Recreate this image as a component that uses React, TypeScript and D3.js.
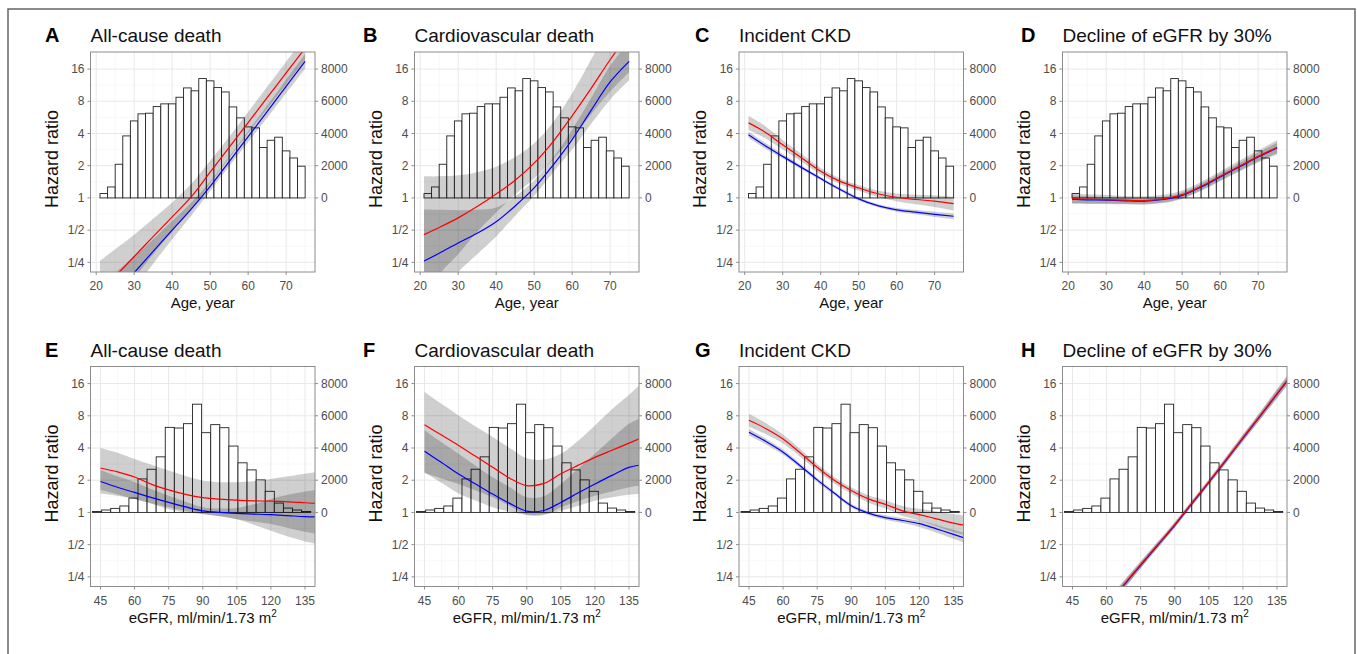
import React from "react";
import * as d3 from "d3";

const ageGrid = [21, 25, 30, 35, 40, 45, 50, 55, 60, 65, 70, 75];
const egfrGrid = [45, 52.5, 60, 67.5, 75, 82.5, 90, 97.5, 105, 112.5, 120, 127.5, 135, 140];

// histogram of participants
const ageBinStart = 21;
const ageBinWidth = 2;
const ageCounts = [270, 680, 2090, 3850, 4780, 5220, 5260, 5670, 5840, 5840, 6250, 6830, 6650, 7410, 7270, 6850, 6580, 5650, 4970, 4410, 4350, 3130, 3580, 3770, 2920, 2480, 1970];
const egfrBinStart = 41.5;
const egfrBinWidth = 4;
const egfrCounts = [60, 150, 250, 400, 890, 2080, 2680, 3450, 5280, 5240, 5510, 6720, 4950, 5450, 5260, 4120, 3080, 2640, 2020, 1310, 580, 270, 150, 60, 0];

// [lower, estimate, upper] as log2(hazard ratio)
type Band = [number, number, number];

const ageAllRed: Band[] = [[-3.95, -2.95, -1.95], [-3.29, -2.44, -1.59], [-2.5, -1.82, -1.14], [-1.75, -1.2, -0.65], [-1.04, -0.59, -0.14], [-0.37, 0.03, 0.43], [0.45, 0.8, 1.15], [1.24, 1.57, 1.9], [2.01, 2.34, 2.67], [2.77, 3.11, 3.45], [3.53, 3.88, 4.23], [4.28, 4.65, 5.02]];
const ageAllBlue: Band[] = [[-4.3, -3.5, -2.7], [-3.62, -2.97, -2.32], [-2.82, -2.32, -1.82], [-2.04, -1.66, -1.28], [-1.28, -1.0, -0.72], [-0.55, -0.35, -0.15], [0.21, 0.36, 0.51], [0.98, 1.13, 1.28], [1.73, 1.9, 2.07], [2.49, 2.68, 2.87], [3.25, 3.46, 3.67], [4.01, 4.24, 4.47]];

const ageCvdRed: Band[] = [[-3.6, -1.14, 0.67], [-2.4, -0.92, 0.67], [-1.75, -0.62, 0.7], [-1.05, -0.27, 0.8], [-0.45, 0.12, 0.97], [0.1, 0.55, 1.27], [0.6, 1.08, 1.7], [1.2, 1.75, 2.35], [1.85, 2.55, 3.25], [2.6, 3.4, 4.3], [3.3, 4.29, 5.4], [3.9, 5.1, 6.5]];
const ageCvdBlue: Band[] = [[-3.6, -1.96, -0.36], [-3.0, -1.72, -0.37], [-2.3, -1.4, -0.38], [-1.75, -1.1, -0.37], [-1.2, -0.74, -0.3], [-0.55, -0.25, 0.05], [0.07, 0.31, 0.55], [0.8, 1.02, 1.25], [1.5, 1.81, 2.12], [2.3, 2.72, 3.1], [3.05, 3.6, 4.1], [3.65, 4.24, 4.85]];

const ageCkdRed: Band[] = [[2.11, 2.33, 2.55], [1.88, 2.07, 2.26], [1.5, 1.65, 1.8], [1.12, 1.24, 1.36], [0.73, 0.83, 0.93], [0.43, 0.52, 0.61], [0.22, 0.31, 0.4], [0.03, 0.13, 0.23], [-0.1, 0.02, 0.14], [-0.2, -0.05, 0.1], [-0.28, -0.1, 0.08], [-0.39, -0.18, 0.03]];
const ageCkdBlue: Band[] = [[1.86, 1.96, 2.06], [1.56, 1.65, 1.74], [1.22, 1.29, 1.36], [0.88, 0.94, 1.0], [0.55, 0.6, 0.65], [0.22, 0.27, 0.32], [-0.08, -0.03, 0.02], [-0.29, -0.24, -0.19], [-0.43, -0.37, -0.31], [-0.51, -0.44, -0.37], [-0.59, -0.51, -0.43], [-0.66, -0.57, -0.48]];

const ageDeclRed: Band[] = [[-0.19, -0.02, 0.15], [-0.19, -0.04, 0.11], [-0.19, -0.05, 0.09], [-0.2, -0.07, 0.06], [-0.21, -0.08, 0.05], [-0.16, -0.03, 0.1], [-0.03, 0.1, 0.23], [0.22, 0.36, 0.5], [0.52, 0.67, 0.82], [0.81, 0.98, 1.15], [1.1, 1.29, 1.48], [1.35, 1.57, 1.79]];
const ageDeclBlue: Band[] = [[-0.16, -0.04, 0.08], [-0.17, -0.06, 0.05], [-0.17, -0.07, 0.03], [-0.18, -0.09, 0.0], [-0.19, -0.1, -0.01], [-0.14, -0.05, 0.04], [-0.01, 0.08, 0.17], [0.24, 0.34, 0.44], [0.54, 0.65, 0.76], [0.84, 0.96, 1.08], [1.13, 1.27, 1.41], [1.39, 1.55, 1.71]];

const egfrAllRed: Band[] = [[0.59, 1.38, 2.0], [0.52, 1.26, 1.85], [0.42, 1.1, 1.66], [0.27, 0.87, 1.48], [0.1, 0.7, 1.3], [0.0, 0.56, 1.13], [-0.05, 0.46, 0.99], [-0.12, 0.41, 0.94], [-0.21, 0.38, 0.94], [-0.38, 0.36, 0.97], [-0.57, 0.35, 1.04], [-0.75, 0.33, 1.12], [-0.9, 0.3, 1.2], [-0.97, 0.28, 1.25]];
const egfrAllBlue: Band[] = [[0.7, 0.96, 1.32], [0.56, 0.78, 1.12], [0.42, 0.62, 0.94], [0.28, 0.46, 0.72], [0.16, 0.31, 0.52], [0.05, 0.17, 0.33], [-0.05, 0.05, 0.16], [-0.12, 0.0, 0.12], [-0.21, -0.03, 0.14], [-0.28, -0.05, 0.25], [-0.36, -0.07, 0.42], [-0.48, -0.1, 0.55], [-0.6, -0.13, 0.65], [-0.67, -0.14, 0.7]];

const egfrCvdRed: Band[] = [[1.22, 2.72, 3.74], [1.05, 2.4, 3.37], [0.88, 2.08, 3.01], [0.68, 1.74, 2.67], [0.47, 1.4, 2.34], [0.2, 1.06, 2.0], [-0.08, 0.83, 1.68], [-0.08, 0.9, 1.64], [0.16, 1.2, 1.82], [0.35, 1.46, 2.22], [0.52, 1.71, 2.7], [0.65, 1.93, 3.2], [0.78, 2.15, 3.65], [0.83, 2.3, 3.98]];
const egfrCvdBlue: Band[] = [[1.25, 1.9, 2.55], [0.92, 1.55, 2.18], [0.59, 1.19, 1.82], [0.37, 0.88, 1.45], [0.16, 0.57, 1.09], [0.02, 0.28, 0.78], [-0.07, 0.04, 0.47], [-0.06, 0.06, 0.5], [0.05, 0.31, 0.88], [0.2, 0.6, 1.35], [0.36, 0.88, 1.82], [0.47, 1.15, 2.3], [0.55, 1.4, 2.75], [0.57, 1.47, 2.93]];

const egfrCkdRed: Band[] = [[2.66, 2.86, 3.06], [2.43, 2.6, 2.77], [2.14, 2.28, 2.42], [1.73, 1.85, 1.97], [1.29, 1.4, 1.51], [0.9, 1.0, 1.1], [0.58, 0.68, 0.78], [0.31, 0.42, 0.53], [0.12, 0.25, 0.38], [-0.1, 0.05, 0.2], [-0.25, -0.07, 0.11], [-0.43, -0.2, 0.03], [-0.61, -0.33, -0.05], [-0.7, -0.4, -0.1]];
const egfrCkdBlue: Band[] = [[2.39, 2.49, 2.59], [2.11, 2.2, 2.29], [1.79, 1.87, 1.95], [1.38, 1.45, 1.52], [0.94, 1.01, 1.08], [0.54, 0.6, 0.66], [0.15, 0.21, 0.27], [-0.08, -0.02, 0.04], [-0.23, -0.16, -0.09], [-0.33, -0.25, -0.17], [-0.45, -0.35, -0.25], [-0.63, -0.51, -0.39], [-0.82, -0.68, -0.54], [-0.95, -0.8, -0.65]];

const egfrDeclRed: Band[] = [[-4.3, -4.1, -3.9], [-3.62, -3.45, -3.28], [-3.02, -2.87, -2.72], [-2.38, -2.25, -2.12], [-1.73, -1.62, -1.51], [-1.1, -1.0, -0.9], [-0.47, -0.38, -0.29], [0.2, 0.29, 0.38], [0.86, 0.95, 1.04], [1.53, 1.63, 1.73], [2.21, 2.32, 2.43], [2.88, 3.0, 3.12], [3.55, 3.69, 3.83], [4.0, 4.15, 4.3]];
const egfrDeclBlue: Band[] = [[-4.3, -4.12, -3.94], [-3.63, -3.47, -3.31], [-3.03, -2.89, -2.75], [-2.39, -2.27, -2.15], [-1.74, -1.64, -1.54], [-1.11, -1.02, -0.93], [-0.48, -0.4, -0.32], [0.19, 0.27, 0.35], [0.85, 0.93, 1.01], [1.52, 1.61, 1.7], [2.2, 2.3, 2.4], [2.87, 2.98, 3.09], [3.54, 3.67, 3.8], [3.99, 4.13, 4.27]];

const ageTicks = [20, 30, 40, 50, 60, 70];
const ageMinor = [25, 35, 45, 55, 65, 75];
const egfrTicks = [45, 60, 75, 90, 105, 120, 135];
const egfrMinor = [52.5, 67.5, 82.5, 97.5, 112.5, 127.5];
const hrTicks = [-2, -1, 0, 1, 2, 3, 4];
const hrLabels = ["1/4", "1/2", "1", "2", "4", "8", "16"];
const hrMinor = [-1.5, -0.5, 0.5, 1.5, 2.5, 3.5];
const countTicks = [0, 2000, 4000, 6000, 8000];

const titles = ["All-cause death", "Cardiovascular death", "Incident CKD", "Decline of eGFR by 30%"];
const letters = ["A", "B", "C", "D", "E", "F", "G", "H"];

// layout
const W = 1357;
const H = 654;
const colLeft = [90.5, 414.5, 739, 1062.5];
const letterX = [45, 363, 695, 1021];
const rowTop = [52, 366.5];
const plotW = 224.5;
const plotH = 220;
const font = "'Liberation Sans', Arial, Helvetica, sans-serif";

const panels = [
  { red: ageAllRed, blue: ageAllBlue },
  { red: ageCvdRed, blue: ageCvdBlue },
  { red: ageCkdRed, blue: ageCkdBlue },
  { red: ageDeclRed, blue: ageDeclBlue },
  { red: egfrAllRed, blue: egfrAllBlue },
  { red: egfrCvdRed, blue: egfrCvdBlue },
  { red: egfrCkdRed, blue: egfrCkdBlue },
  { red: egfrDeclRed, blue: egfrDeclBlue },
];

const y = d3.scaleLinear().domain([-2.3, 4.53]).range([plotH, 0]);
const yCount = d3.scaleLinear().domain([0, 8000]).range([y(0), y(4)]);

interface PanelProps {
  idx: number;
  red: Band[];
  blue: Band[];
}

const Panel: React.FC<PanelProps> = ({ idx, red, blue }) => {
  const row = idx < 4 ? 0 : 1;
  const col = idx % 4;
  const isAge = row === 0;
  const left = colLeft[col];
  const top = rowTop[row];
  const grid = isAge ? ageGrid : egfrGrid;
  const x = d3
    .scaleLinear()
    .domain(isAge ? [18.5, 77.6] : [40.6, 139.4])
    .range([0, plotW]);
  const ticks = isAge ? ageTicks : egfrTicks;
  const minor = isAge ? ageMinor : egfrMinor;
  const counts = isAge ? ageCounts : egfrCounts;
  const binStart = isAge ? ageBinStart : egfrBinStart;
  const binW = isAge ? ageBinWidth : egfrBinWidth;

  const curve = d3.curveCatmullRom.alpha(0.5);
  const area = d3
    .area<Band>()
    .x((_, i) => x(grid[i]))
    .y0((d) => y(d[0]))
    .y1((d) => y(d[2]))
    .curve(curve);
  const line = d3
    .line<Band>()
    .x((_, i) => x(grid[i]))
    .y((d) => y(d[1]))
    .curve(curve);

  const clipId = `clip-${idx}`;

  return (
    <g>
      <text x={letterX[col]} y={top - 10} fontSize={20} fontWeight="bold" fill="#000">
        {letters[idx]}
      </text>
      <text x={left} y={top - 10} fontSize={19} fill="#111">
        {titles[col]}
      </text>
      <g transform={`translate(${left},${top})`}>
        <defs>
          <clipPath id={clipId}>
            <rect x={0} y={0} width={plotW} height={plotH} />
          </clipPath>
        </defs>
        <rect x={0} y={0} width={plotW} height={plotH} fill="#fff" />
        {minor.map((v) => (
          <line key={`mx${v}`} x1={x(v)} x2={x(v)} y1={0} y2={plotH} stroke="#f3f3f3" strokeWidth={0.6} />
        ))}
        {hrMinor.map((v) => (
          <line key={`my${v}`} x1={0} x2={plotW} y1={y(v)} y2={y(v)} stroke="#f3f3f3" strokeWidth={0.6} />
        ))}
        {ticks.map((v) => (
          <line key={`gx${v}`} x1={x(v)} x2={x(v)} y1={0} y2={plotH} stroke="#e8e8e8" strokeWidth={1} />
        ))}
        {hrTicks.map((v) => (
          <line key={`gy${v}`} x1={0} x2={plotW} y1={y(v)} y2={y(v)} stroke="#e8e8e8" strokeWidth={1} />
        ))}
        <g clipPath={`url(#${clipId})`}>
          {counts.map((c, i) => {
            const x0 = x(binStart + i * binW);
            const x1 = x(binStart + (i + 1) * binW);
            return (
              <rect
                key={`b${i}`}
                x={x0}
                y={yCount(c)}
                width={x1 - x0}
                height={yCount(0) - yCount(c)}
                fill="#fff"
                stroke="#222"
                strokeWidth={0.9}
              />
            );
          })}
          <path d={area(red) ?? ""} fill="#000" fillOpacity={0.19} />
          <path d={area(blue) ?? ""} fill="#000" fillOpacity={0.19} />
          <path d={line(blue) ?? ""} fill="none" stroke="#0000ff" strokeWidth={1.2} />
          <path d={line(red) ?? ""} fill="none" stroke="#ff0000" strokeWidth={1.2} />
        </g>
        <rect x={0} y={0} width={plotW} height={plotH} fill="none" stroke="#8c8c8c" strokeWidth={1} />
        {hrTicks.map((v, i) => (
          <g key={`ly${v}`}>
            <line x1={-3} x2={0} y1={y(v)} y2={y(v)} stroke="#8c8c8c" />
            <text x={-6} y={y(v)} dy="0.35em" textAnchor="end" fontSize={12} fill="#4d4d4d">
              {hrLabels[i]}
            </text>
          </g>
        ))}
        {countTicks.map((v) => (
          <g key={`ry${v}`}>
            <line x1={plotW} x2={plotW + 3} y1={yCount(v)} y2={yCount(v)} stroke="#8c8c8c" />
            <text x={plotW + 6} y={yCount(v)} dy="0.35em" textAnchor="start" fontSize={12} fill="#4d4d4d">
              {v}
            </text>
          </g>
        ))}
        {ticks.map((v) => (
          <g key={`tx${v}`}>
            <line x1={x(v)} x2={x(v)} y1={plotH} y2={plotH + 3} stroke="#8c8c8c" />
            <text x={x(v)} y={plotH + 18} textAnchor="middle" fontSize={12} fill="#4d4d4d">
              {v}
            </text>
          </g>
        ))}
        <text x={plotW / 2} y={plotH + 36} textAnchor="middle" fontSize={15} fill="#111">
          {isAge ? (
            "Age, year"
          ) : (
            <>
              eGFR, ml/min/1.73 m
              <tspan dy={-6} fontSize={10}>
                2
              </tspan>
            </>
          )}
        </text>
        <text
          transform={`translate(${-33},${plotH / 2 - 3}) rotate(-90)`}
          textAnchor="middle"
          fontSize={18}
          fill="#111"
        >
          Hazard ratio
        </text>
      </g>
    </g>
  );
};

const App: React.FC = () => {
  return (
    <svg
      width={W}
      height={H}
      style={{ position: "absolute", left: 0, top: 0, background: "#fff" }}
      fontFamily={font}
    >
      <rect x={0} y={0} width={W} height={H} fill="#fff" />
      <rect x={8} y={9} width={1347} height={670} fill="none" stroke="#666" strokeWidth={1.5} />
      {panels.map((p, i) => (
        <Panel key={i} idx={i} red={p.red} blue={p.blue} />
      ))}
    </svg>
  );
};

export default App;
